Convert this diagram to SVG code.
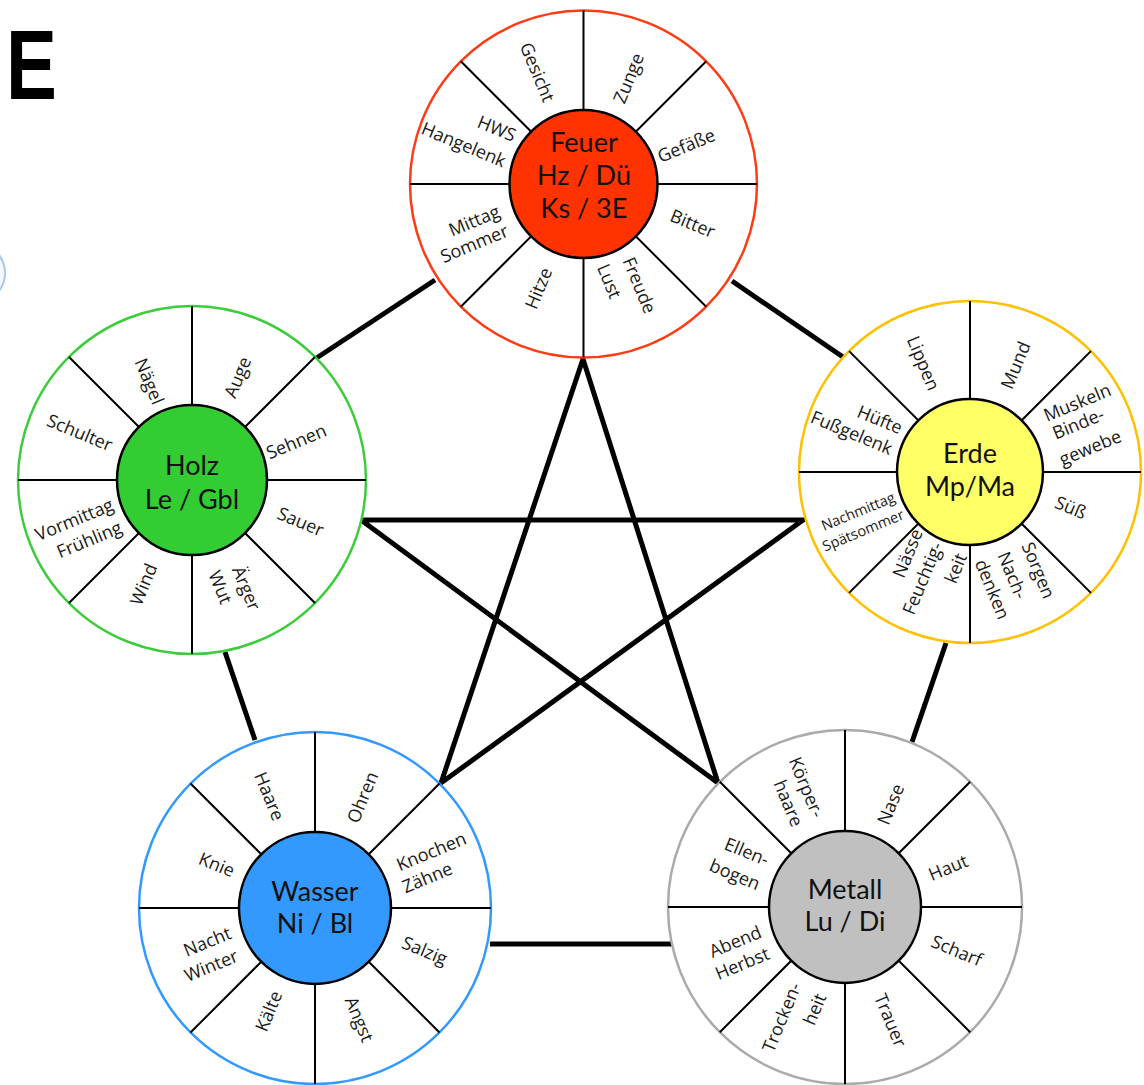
<svg xmlns="http://www.w3.org/2000/svg" width="1144" height="1085" viewBox="0 0 1144 1085">
<style>
.bg{fill:#ffffff}
.con{stroke:#000;stroke-width:5;fill:none;stroke-linejoin:miter;stroke-miterlimit:6}
.outer{fill:#fff;stroke-width:2.5}
.spk{stroke:#000;stroke-width:2;fill:none}
.inner{stroke:#000;stroke-width:2.5}
.lb{font-family:"Open Sans","Lato",sans-serif;font-size:18px;fill:#1a1a1a;text-anchor:middle;dominant-baseline:central}
.sm{font-size:14.5px}
.ct{font-family:"Lato","Open Sans",sans-serif;font-size:27px;fill:#111;text-anchor:middle}
</style>
<rect class="bg" x="0" y="0" width="1144" height="1085"/>
<g id="title">
<text transform="translate(6,99) scale(0.77,1)" font-family="'Liberation Sans',Arial,sans-serif" font-weight="bold" font-size="99" fill="#000">E</text>
<circle cx="-25" cy="273" r="30" fill="#f3f8fd" stroke="#a9c8ea" stroke-width="2"/>
</g>
<g id="connectors">
<line class="con" x1="435" y1="280" x2="315" y2="359"/>
<line class="con" x1="732" y1="281" x2="843" y2="357"/>
<line class="con" x1="225" y1="652" x2="255" y2="740"/>
<line class="con" x1="946" y1="643" x2="912" y2="742"/>
<line class="con" x1="490" y1="944" x2="674" y2="944"/>
<path class="con" d="M441,783 L583,359 L718,783 L361,520 L803,520 Z"/>
</g>
<g id="feuer">
<g transform="translate(583.5,184)">
<circle class="outer" r="173.5" stroke="#ff3b14"/>
<path class="spk" d="M-173.5,0H173.5M0,-173.5V173.5M-122.7,-122.7L122.7,122.7M122.7,-122.7L-122.7,122.7"/>
<circle class="inner" r="74" fill="#ff3300"/>
</g>
<text class="ct" x="584" y="152">Feuer</text>
<text class="ct" x="584" y="185">Hz / Dü</text>
<text class="ct" x="584" y="218">Ks / 3E</text>
<text class="lb" transform="translate(538,72) rotate(67.5)">Gesicht</text>
<text class="lb" transform="translate(628,78) rotate(-67.5)">Zunge</text>
<text class="lb" transform="translate(686,145) rotate(-22.5)">Gefäße</text>
<text class="lb" transform="translate(693,223) rotate(22.5)">Bitter</text>
<text class="lb" transform="translate(640,285) rotate(67.5)">Freude</text>
<text class="lb" transform="translate(610,281) rotate(67.5)">Lust</text>
<text class="lb" transform="translate(538,288) rotate(-67.5)">Hitze</text>
<text class="lb" transform="translate(474,220) rotate(-22.5)">Mittag</text>
<text class="lb" transform="translate(474,243) rotate(-22.5)">Sommer</text>
<text class="lb" transform="translate(497,128) rotate(22.5)">HWS</text>
<text class="lb" transform="translate(464,144) rotate(22.5)">Hangelenk</text>
</g>
<g id="holz">
<g transform="translate(192,480)">
<circle class="outer" r="174" stroke="#3ccc3c"/>
<path class="spk" d="M-174,0H174M0,-174V174M-123,-123L123,123M123,-123L-123,123"/>
<circle class="inner" r="75" fill="#33cc33"/>
</g>
<text class="ct" x="192" y="475" font-size="29">Holz</text>
<text class="ct" x="192" y="509" font-size="27">Le / Gbl</text>
<text class="lb" transform="translate(150,381) rotate(67.5)">Nägel</text>
<text class="lb" transform="translate(237,377) rotate(-67.5)">Auge</text>
<text class="lb" transform="translate(296,441) rotate(-22.5)">Sehnen</text>
<text class="lb" transform="translate(301,521) rotate(22.5)">Sauer</text>
<text class="lb" transform="translate(247,588) rotate(67.5)">Ärger</text>
<text class="lb" transform="translate(221,587) rotate(67.5)">Wut</text>
<text class="lb" transform="translate(143,584) rotate(-67.5)">Wind</text>
<text class="lb" transform="translate(74,519) rotate(-22.5)">Vormittag</text>
<text class="lb" transform="translate(89,539) rotate(-22.5)">Frühling</text>
<text class="lb" transform="translate(80,432) rotate(22.5)">Schulter</text>
</g>
<g id="erde">
<g transform="translate(970,472)">
<circle class="outer" r="171" stroke="#ffc000" stroke-width="3.5"/>
<path class="spk" d="M-171,0H171M0,-171V171M-120.9,-120.9L120.9,120.9M120.9,-120.9L-120.9,120.9"/>
<circle class="inner" r="73" fill="#ffff66"/>
</g>
<text class="ct" x="970" y="463">Erde</text>
<text class="ct" x="970" y="496">Mp/Ma</text>
<text class="lb" transform="translate(924,363) rotate(67.5)">Lippen</text>
<text class="lb" transform="translate(1015,365) rotate(-67.5)">Mund</text>
<text class="lb" transform="translate(1077,402) rotate(-22.5)">Muskeln</text>
<text class="lb" transform="translate(1078,423) rotate(-22.5)">Binde-</text>
<text class="lb" transform="translate(1090,447) rotate(-22.5)">gewebe</text>
<text class="lb" transform="translate(1071,507) rotate(22.5)">Süß</text>
<text class="lb" transform="translate(1039,570) rotate(67.5)">Sorgen</text>
<text class="lb" transform="translate(1013,575) rotate(67.5)">Nach-</text>
<text class="lb" transform="translate(993,589) rotate(67.5)">denken</text>
<text class="lb" transform="translate(907,553) rotate(-67.5)">Nässe</text>
<text class="lb" transform="translate(922,578) rotate(-67.5)">Feuchtig-</text>
<text class="lb" transform="translate(955,568) rotate(-67.5)">keit</text>
<text class="lb sm" transform="translate(858,511) rotate(-22.5)">Nachmittag</text>
<text class="lb sm" transform="translate(863,530) rotate(-22.5)">Spätsommer</text>
<text class="lb" transform="translate(880,419) rotate(22.5)">Hüfte</text>
<text class="lb" transform="translate(852,432) rotate(22.5)">Fußgelenk</text>
</g>
<g id="wasser">
<g transform="translate(315,908)">
<circle class="outer" r="176" stroke="#3399ff"/>
<path class="spk" d="M-176,0H176M0,-176V176M-124.5,-124.5L124.5,124.5M124.5,-124.5L-124.5,124.5"/>
<circle class="inner" r="76" fill="#3399ff"/>
</g>
<text class="ct" x="315" y="901" font-size="26">Wasser</text>
<text class="ct" x="315" y="933" font-size="26">Ni / Bl</text>
<text class="lb" transform="translate(270,796) rotate(67.5)">Haare</text>
<text class="lb" transform="translate(362,797) rotate(-67.5)">Ohren</text>
<text class="lb" transform="translate(431,851) rotate(-22.5)">Knochen</text>
<text class="lb" transform="translate(427,877) rotate(-22.5)">Zähne</text>
<text class="lb" transform="translate(425,950) rotate(22.5)">Salzig</text>
<text class="lb" transform="translate(360,1019) rotate(67.5)">Angst</text>
<text class="lb" transform="translate(268,1011) rotate(-67.5)">Kälte</text>
<text class="lb" transform="translate(207,941) rotate(-22.5)">Nacht</text>
<text class="lb" transform="translate(211,965) rotate(-22.5)">Winter</text>
<text class="lb" transform="translate(217,864) rotate(22.5)">Knie</text>
</g>
<g id="metall">
<g transform="translate(845,907)">
<circle class="outer" r="177" stroke="#aaaaaa"/>
<path class="spk" d="M-177,0H177M0,-177V177M-125.2,-125.2L125.2,125.2M125.2,-125.2L-125.2,125.2"/>
<circle class="inner" r="76" fill="#c0c0c0"/>
</g>
<text class="ct" x="845" y="899" font-size="25">Metall</text>
<text class="ct" x="845" y="931" font-size="21">Lu / Di</text>
<text class="lb" transform="translate(807,787) rotate(67.5)">Körper-</text>
<text class="lb" transform="translate(789,803) rotate(67.5)">haare</text>
<text class="lb" transform="translate(890,804) rotate(-67.5)">Nase</text>
<text class="lb" transform="translate(948,867) rotate(-22.5)">Haut</text>
<text class="lb" transform="translate(957,950) rotate(22.5)">Scharf</text>
<text class="lb" transform="translate(891,1020) rotate(67.5)">Trauer</text>
<text class="lb" transform="translate(781,1017) rotate(-67.5)">Trocken-</text>
<text class="lb" transform="translate(814,1009) rotate(-67.5)">heit</text>
<text class="lb" transform="translate(735,941) rotate(-22.5)">Abend</text>
<text class="lb" transform="translate(742,963) rotate(-22.5)">Herbst</text>
<text class="lb" transform="translate(747,851) rotate(22.5)">Ellen-</text>
<text class="lb" transform="translate(735,874) rotate(22.5)">bogen</text>
</g>
</svg>
